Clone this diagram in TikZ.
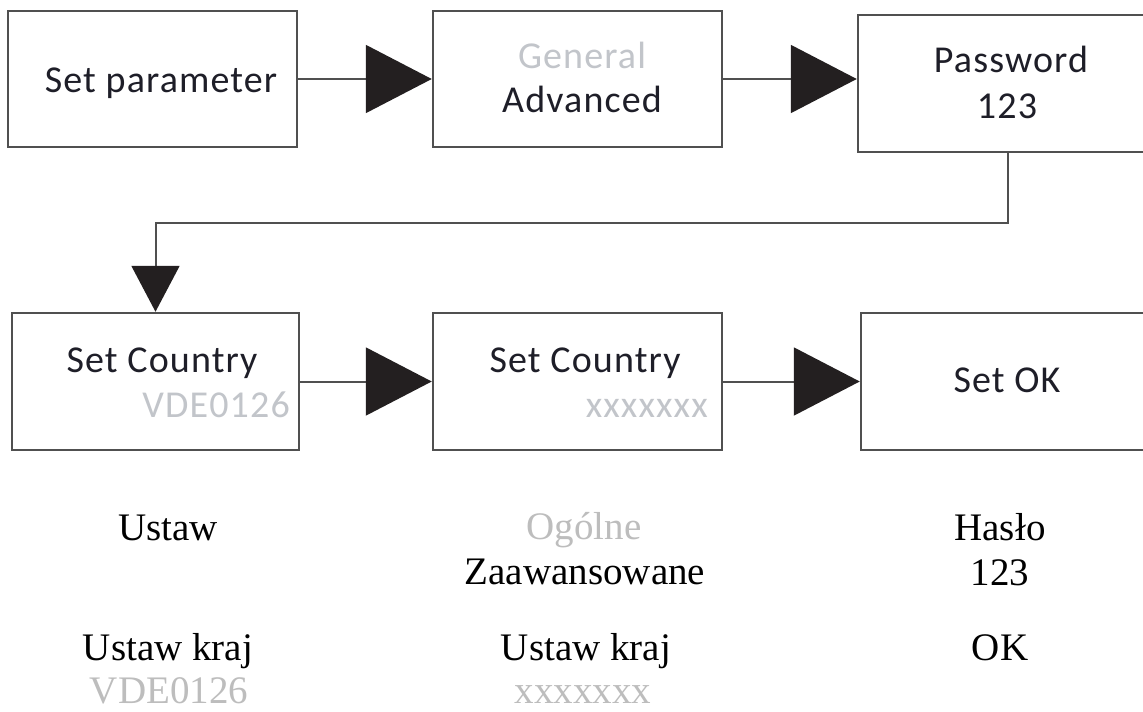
\documentclass[tikz,border=0pt]{standalone}
\usepackage{fontspec}
\setmainfont{Liberation Serif}
\newfontfamily\boxfont[LetterSpace=3]{Carlito}
\usetikzlibrary{arrows.meta}
\definecolor{linegray}{HTML}{505050}
\definecolor{tipblack}{HTML}{231F20}
\definecolor{boxtext}{HTML}{1E1E28}
\definecolor{lightlab}{HTML}{C2C5CA}
\definecolor{lowgray}{HTML}{BDBDBD}
\tikzset{
  flowbox/.style={draw=linegray, line width=2.5pt, fill=white, inner sep=0pt},
  conn/.style={draw=linegray, line width=2pt, -{Triangle[length=66pt,width=68pt,fill=tipblack,color=tipblack]}},
  downconn/.style={draw=linegray, line width=2pt, -{Triangle[length=46pt,width=48pt,fill=tipblack,color=tipblack]}},
  boxlab/.style={inner sep=0pt, anchor=base, text=boxtext, font=\boxfont\fontsize{38}{44}\selectfont},
  boxlabgray/.style={boxlab, text=lightlab},
  lowlab/.style={inner sep=0pt, anchor=base, text=black, font=\fontsize{39}{44}\selectfont},
  lowlabgray/.style={lowlab, text=lowgray}
}
\begin{document}
\begin{tikzpicture}[x=1pt,y=-1pt]
\useasboundingbox (0,0) rectangle (1143,712);
\clip (0,0) rectangle (1143,712);
\fill[white] (0,0) rectangle (1143,712);
% boxes
\node[flowbox, minimum width=289pt, minimum height=136pt] (b1) at (152.5,79) {};
\node[flowbox, minimum width=289pt, minimum height=136pt] (b2) at (577.5,79) {};
\node[flowbox, minimum width=300pt, minimum height=137pt] (b3) at (1008,83.5) {};
\node[flowbox, minimum width=287pt, minimum height=137pt] (b4) at (155.5,381.5) {};
\node[flowbox, minimum width=289pt, minimum height=137pt] (b5) at (577.5,381.5) {};
\node[flowbox, minimum width=300pt, minimum height=137pt] (b6) at (1011,381.5) {};
% connectors
\draw[conn] (b1.east) -- (b2.west);
\draw[conn] (b2.east) -- (b2.east -| b3.west);
\draw[downconn] (b3.south) -- ++(0,70) -| (b4.north);
\draw[conn] (b4.east) -- (b5.west);
\draw[conn] (b5.east) -- (b6.west);
% box labels
\node[boxlab] (t1) at (161,92) {Set parameter};
\node[boxlabgray] (t2a) at (582,68) {General};
\node[boxlab] (t2b) at (582,112) {Advanced};
\node[boxlab] (t3a) at (1011,72) {Password};
\node[boxlab] (t3b) at (1007,118) {123};
\node[boxlab] (t4a) at (162,372) {Set Country};
\node[boxlabgray, anchor=base east] (t4b) at (290,417) {VDE0126};
\node[boxlab] (t5a) at (585,372) {Set Country};
\node[boxlabgray, anchor=base east] (t5b) at (708,417) {xxxxxxx};
\node[boxlab] (t6) at (1007,392) {Set OK};
% lower translations
\node[lowlab] (l1) at (168,540) {Ustaw};
\node[lowlabgray] (l2a) at (584,539) {Ogólne};
\node[lowlab] (l2b) at (585,584) {Zaawansowane};
\node[lowlab] (l3a) at (1000,540) {Hasło};
\node[lowlab] (l3b) at (1000,585) {123};
\node[lowlab] (l4a) at (168,660) {Ustaw kraj};
\node[lowlabgray] (l4b) at (169,703) {VDE0126};
\node[lowlab] (l5a) at (586,660) {Ustaw kraj};
\node[lowlabgray] (l5b) at (583,703) {xxxxxxx};
\node[lowlab] (l6) at (1000,660) {OK};
\end{tikzpicture}
\end{document}
